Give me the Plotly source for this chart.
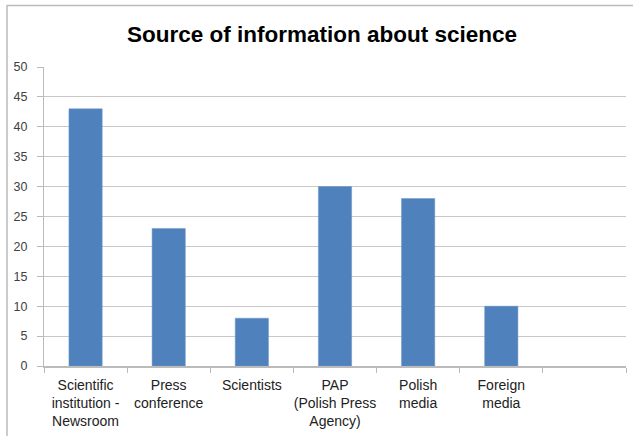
import plotly.graph_objects as go

categories = ["Scientific<br>institution -<br>Newsroom", "Press<br>conference", "Scientists",
              "PAP<br>(Polish Press<br>Agency)", "Polish<br>media", "Foreign<br>media", " "]
values = [43, 23, 8, 30, 28, 10, None]
y_ticks = [0, 5, 10, 15, 20, 25, 30, 35, 40, 45, 50]

W, H = 633, 436
L, R, T, B = 44, 7, 67, 70
pw, ph = W - L - R, H - T - B

def px_x(px):
    return (px - L) / pw

def px_y(py):
    return (H - B - py) / ph

fig = go.Figure(go.Bar(x=categories, y=values, marker=dict(color="#4F81BD", line=dict(color="#6E97C8", width=0.5)),
                       width=0.4))

fig.update_layout(
    width=W, height=H,
    margin=dict(l=L, r=R, t=T, b=B, autoexpand=False),
    paper_bgcolor="white", plot_bgcolor="white",
    showlegend=False,
    font=dict(family="Liberation Sans, Arial, sans-serif", color="#222222"),
    title=dict(text="<b>Source of information about science</b>", x=322 / W,
               xanchor="center", xref="container",
               y=1 - 34 / H, yanchor="middle", font=dict(size=22.5, color="#000000")),
    xaxis=dict(type="category", tickson="boundaries", ticks="outside", ticklen=5, tickcolor="#BBBBBB",
               showline=True, linecolor="#BBBBBB", linewidth=1.5, showgrid=False, tickangle=0,
               automargin=False, ticklabelstandoff=5,
               tickfont=dict(size=14, color="#222222"), range=[-0.5, 6.5]),
    yaxis=dict(range=[0, 50], tickvals=y_ticks, ticks="outside", ticklen=6, tickcolor="#BBBBBB",
               showline=True, linecolor="#BBBBBB", linewidth=1, showgrid=True, gridcolor="#C8C8C8",
               gridwidth=1.2, zeroline=False, automargin=False, ticklabelstandoff=7,
               tickfont=dict(size=12.5, color="#404040")),
    shapes=[
        dict(type="line", xref="paper", yref="paper", x0=px_x(7), x1=px_x(7), y0=px_y(5), y1=px_y(436),
             line=dict(color="#BBBBBB", width=1.5)),
        dict(type="line", xref="paper", yref="paper", x0=px_x(7), x1=px_x(633), y0=px_y(5.5), y1=px_y(5.5),
             line=dict(color="#BBBBBB", width=1.5)),
    ],
)

fig.write_html("out.html", config={"displayModeBar": False},
               post_script="document.body.style.margin='0px';")
